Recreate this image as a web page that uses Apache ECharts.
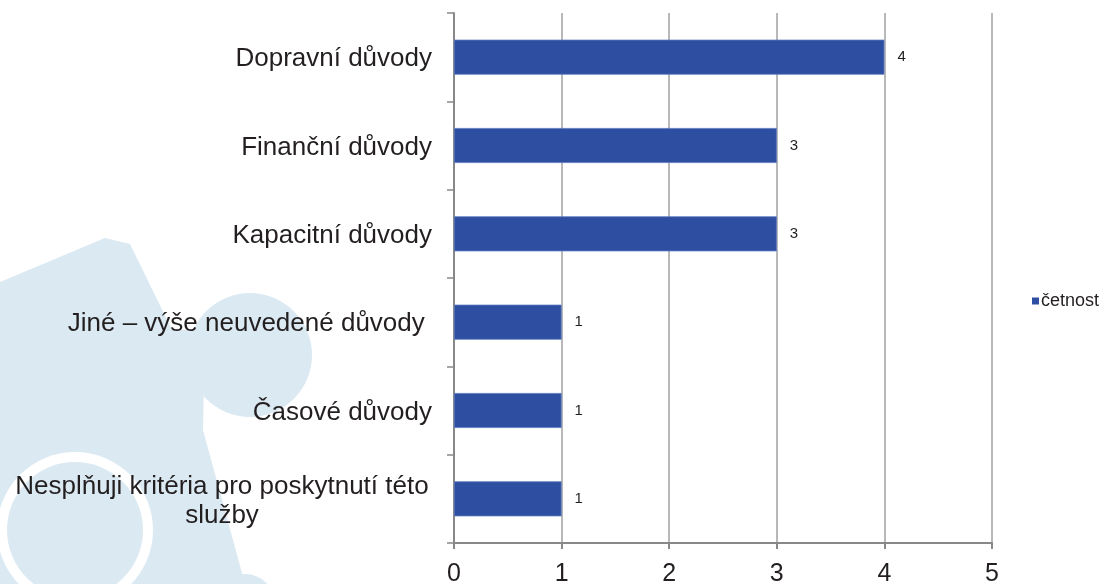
<!DOCTYPE html>
<html>
<head>
<meta charset="utf-8">
<script src="https://cdn.jsdelivr.net/npm/echarts@6/dist/echarts.min.js"></script>
<style>
  html, body { margin: 0; padding: 0; background: #fff; }
  #chart { width: 1105px; height: 584px; }
</style>
</head>
<body>
<div id="chart"></div>
<script>
(function () {
"use strict";
var categories = [
  'Dopravní důvody',
  'Finanční důvody',
  'Kapacitní důvody',
  'Jiné – výše neuvedené důvody ',
  'Časové důvody',
  'Nesplňuji kritéria pro poskytnutí této\nslužby'
];
var values = [4, 3, 3, 1, 1, 1];
var xTicks = [0, 1, 2, 3, 4, 5];
var seriesName = 'četnost';

var FONT = '"Liberation Sans", Arial, sans-serif';
var INK = '#231f20';
var myChart = echarts.init(document.getElementById('chart'));
var wm = '#dbe9f2';
var option = {
  backgroundColor: '#ffffff',
  textStyle: { fontFamily: FONT },
  graphic: [
    // faint puzzle watermark in the background
    { type: 'polygon', z: -10, silent: true,
      shape: { points: [[0, 282], [105, 238], [130, 244], [172, 330], [205, 330], [203, 430], [245, 584], [0, 584]] },
      style: { fill: wm } },
    { type: 'circle', z: -10, silent: true, shape: { cx: 250, cy: 355, r: 62 }, style: { fill: wm } },
    { type: 'circle', z: -9, silent: true, shape: { cx: 75, cy: 530, r: 78 }, style: { fill: '#ffffff' } },
    { type: 'circle', z: -8, silent: true, shape: { cx: 75, cy: 530, r: 68 }, style: { fill: wm } },
    { type: 'circle', z: -10, silent: true, shape: { cx: 245, cy: 604, r: 30 }, style: { fill: wm } }
  ],
  legend: {
    data: [seriesName],
    left: 1027,
    top: 287,
    itemWidth: 7,
    itemHeight: 7,
    itemGap: 5,
    icon: 'rect',
    itemStyle: { borderWidth: 0 },
    textStyle: { fontFamily: FONT, fontSize: 18, color: INK, padding: [0, 0, 0, -3] }
  },
  grid: { left: 454, right: 113, top: 13, bottom: 41, outerBoundsMode: 'none', containLabel: false },
  xAxis: {
    type: 'value',
    min: 0,
    max: 5,
    interval: 1,
    axisLine: { show: true, lineStyle: { color: '#888', width: 2 } },
    axisTick: { show: true, length: 6, lineStyle: { color: '#888', width: 2 } },
    axisLabel: {
      fontFamily: FONT, fontSize: 25, color: INK, margin: 19,
      formatter: function (v) { return xTicks.indexOf(v) >= 0 ? String(v) : ''; }
    },
    splitLine: { show: true, lineStyle: { color: '#a0a0a0', width: 1.5 } }
  },
  yAxis: {
    type: 'category',
    data: categories,
    inverse: true,
    axisLine: { show: true, lineStyle: { color: '#888', width: 2 } },
    axisTick: { show: true, length: 7, lineStyle: { color: '#888', width: 1.5 } },
    axisLabel: {
      fontFamily: FONT, fontSize: 26, color: INK, margin: 22, lineHeight: 30,
      padding: [4, 0, 0, 0],
      formatter: function (v) {
        if (v.indexOf('\n') >= 0) {
          return v.split('\n').map(function (s) { return '{c|' + s + '}'; }).join('\n');
        }
        return v;
      },
      rich: { c: { fontFamily: FONT, fontSize: 26, color: INK, width: 420, align: 'center', lineHeight: 29 } }
    }
  },
  series: [
    {
      name: seriesName,
      type: 'bar',
      data: values,
      barWidth: 35,
      itemStyle: { color: '#2e4ea1', borderColor: '#5b78bf', borderWidth: 0.8 },
      label: { show: true, position: 'right', distance: 13, fontFamily: FONT, fontSize: 15, color: INK }
    }
  ]
};
myChart.setOption(option);
})();
</script>
</body>
</html>
